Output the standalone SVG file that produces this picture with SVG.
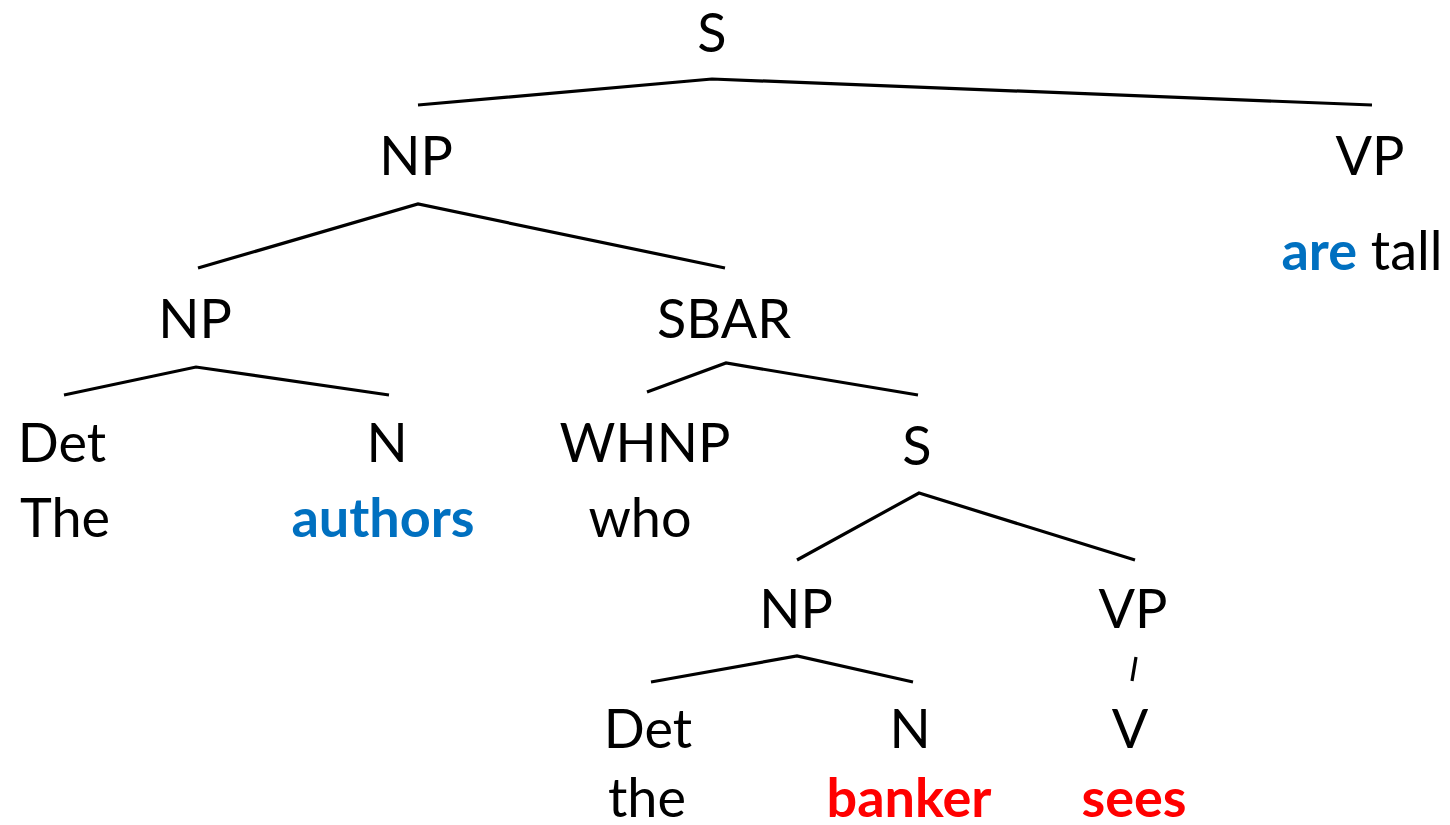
<svg xmlns="http://www.w3.org/2000/svg" width="1450" height="825" viewBox="0 0 1450 825">
<style>
text{font-family:Lato,"Open Sans","Liberation Sans",sans-serif;font-size:54px;fill:#000;text-anchor:middle}
.b{font-weight:bold;fill:#0070C0}
.r{font-weight:bold;fill:#FF0000}
.e{stroke:#000;stroke-width:3.2;fill:none;stroke-linejoin:miter}
</style>
<rect width="1450" height="825" fill="#fff"/>
<g id="connectors">
<polyline class="e" points="418,105 712,79 1372,105"/>
<polyline class="e" points="198,268 418,204 725,268"/>
<polyline class="e" points="64,395 196,367 389,395"/>
<polyline class="e" points="647,392 726,363 918,395"/>
<polyline class="e" points="797,560 919,493 1135,560"/>
<polyline class="e" points="651,682 797,656 913,682"/>
<line class="e" x1="1136" y1="657" x2="1132" y2="681"/>
</g>
<g id="n-S"><text x="712" y="52">S</text></g>
<g id="n-NP"><text x="416" y="175">NP</text></g>
<g id="n-VP"><text x="1370" y="175">VP</text></g>
<g id="n-aretall"><text x="1362" y="270"><tspan class="b">are</tspan> tall</text></g>
<g id="n-NP2"><text x="195" y="338">NP</text></g>
<g id="n-SBAR"><text x="724" y="338">SBAR</text></g>
<g id="n-Det1"><text x="62" y="462">Det</text></g>
<g id="n-N1"><text x="387" y="462">N</text></g>
<g id="n-The"><text x="65" y="537">The</text></g>
<g id="n-authors"><text class="b" x="383" y="537">authors</text></g>
<g id="n-WHNP"><text x="645" y="462">WHNP</text></g>
<g id="n-who"><text x="640" y="537">who</text></g>
<g id="n-S2"><text x="917" y="465">S</text></g>
<g id="n-NP3"><text x="796" y="628">NP</text></g>
<g id="n-VP2"><text x="1133" y="628">VP</text></g>
<g id="n-Det2"><text x="648" y="748">Det</text></g>
<g id="n-the"><text x="647" y="817">the</text></g>
<g id="n-N2"><text x="910" y="748">N</text></g>
<g id="n-banker"><text class="r" x="909" y="817">banker</text></g>
<g id="n-V"><text x="1130" y="748">V</text></g>
<g id="n-sees"><text class="r" x="1134" y="817">sees</text></g>
</svg>
